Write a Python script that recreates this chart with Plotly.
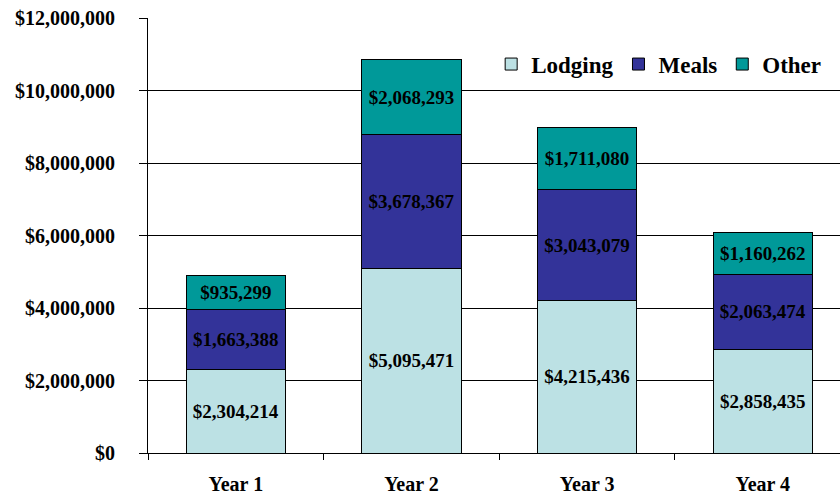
import plotly.graph_objects as go

categories = ["Year 1", "Year 2", "Year 3", "Year 4"]
lodging = [2304214, 5095471, 4215436, 2858435]
meals = [1663388, 3678367, 3043079, 2063474]
other = [935299, 2068293, 1711080, 1160262]
tick_vals = [0, 2000000, 4000000, 6000000, 8000000, 10000000, 12000000]
tick_text = ["$0", "$2,000,000", "$4,000,000", "$6,000,000", "$8,000,000", "$10,000,000", "$12,000,000"]

SERIF = "Times New Roman, Liberation Serif, serif"
series = [("Lodging", lodging, "#BCE1E4"), ("Meals", meals, "#333399"), ("Other", other, "#009999")]

fig = go.Figure()
for name, vals, color in series:
    fig.add_trace(go.Bar(
        x=categories, y=vals, name=name,
        marker=dict(color=color, line=dict(color="#000000", width=1)),
        text=["${:,}".format(v) for v in vals],
        textposition="inside", insidetextanchor="middle",
        constraintext="none", textangle=0,
        textfont=dict(family=SERIF, size=19, color="#000000", weight="bold"),
        width=0.565,
    ))

fig.update_layout(
    barmode="stack",
    width=840, height=494,
    margin=dict(l=148, r=0, t=18, b=41, pad=0, autoexpand=False),
    paper_bgcolor="white", plot_bgcolor="white",
    font=dict(family=SERIF, color="#000000", weight="bold"),
    legend=dict(
        orientation="h", x=0.98, xanchor="right", y=0.894, yanchor="middle",
        bgcolor="white", font=dict(family=SERIF, size=23, color="#000000", weight="bold"),
        traceorder="normal", itemwidth=30,
    ),
    showlegend=True,
)
fig.update_xaxes(
    range=[-0.5, 3.44], showline=True, linecolor="#000000", linewidth=1,
    ticks="outside", tickson="boundaries", ticklen=6, tickcolor="#000000",
    tickfont=dict(family=SERIF, size=20, color="#000000", weight="bold"),
    ticklabelstandoff=13, showgrid=False, automargin=False,
)
fig.update_yaxes(
    range=[0, 12000000], tickvals=tick_vals, ticktext=tick_text,
    showline=True, linecolor="#000000", linewidth=1,
    ticks="outside", ticklen=8, tickcolor="#000000",
    tickfont=dict(family=SERIF, size=20, color="#000000", weight="bold"),
    ticklabelstandoff=20, automargin=False,
    showgrid=True, gridcolor="#000000", gridwidth=1, zeroline=False,
)

fig.write_html("out.html", config={"displayModeBar": False})
with open("out.html", "r", encoding="utf-8") as f:
    html = f.read()
html = html.replace("<body>", '<body style="margin:0;padding:0;overflow:hidden">', 1)
with open("out.html", "w", encoding="utf-8") as f:
    f.write(html)
